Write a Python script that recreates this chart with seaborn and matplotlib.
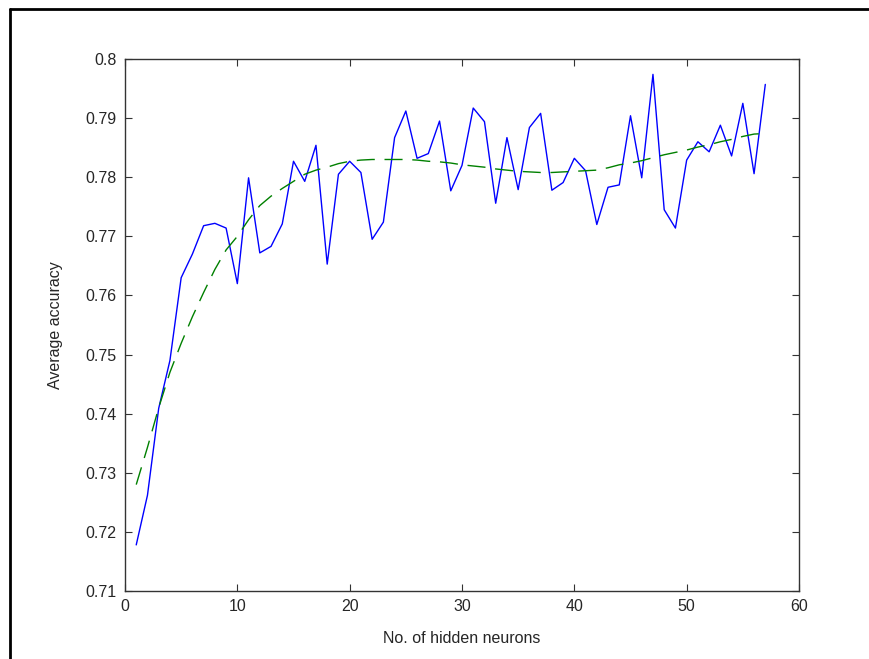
import numpy as np
import pandas as pd
import matplotlib
matplotlib.use("Agg")
import matplotlib.pyplot as plt
from matplotlib.lines import Line2D
import seaborn as sns

# hidden neuron counts and measured accuracy (blue curve)
neurons = list(range(1, 58))
accuracy = [0.7178, 0.7262, 0.7409, 0.7490, 0.7630, 0.7670, 0.7718, 0.7722, 0.7714, 0.7620,
            0.7799, 0.7672, 0.7683, 0.7721, 0.7827, 0.7793, 0.7854, 0.7653, 0.7805, 0.7827,
            0.7808, 0.7695, 0.7724, 0.7867, 0.7912, 0.7832, 0.7840, 0.7895, 0.7777, 0.7820,
            0.7917, 0.7894, 0.7756, 0.7867, 0.7779, 0.7884, 0.7908, 0.7778, 0.7791, 0.7832,
            0.7811, 0.7720, 0.7783, 0.7787, 0.7904, 0.7799, 0.7974, 0.7745, 0.7714, 0.7829,
            0.7860, 0.7843, 0.7888, 0.7836, 0.7925, 0.7806, 0.7957]

# fitted trend (green dashed curve)
trend = [0.7280, 0.7343, 0.7410, 0.7470, 0.7519, 0.7564, 0.7605, 0.7644, 0.7677, 0.7700,
         0.7728, 0.7752, 0.7768, 0.7781, 0.7793, 0.7805, 0.7812, 0.7817, 0.7823, 0.7827,
         0.7829, 0.7830, 0.7830, 0.7830, 0.7830, 0.7829, 0.7827, 0.7826, 0.7824, 0.7821,
         0.7819, 0.7817, 0.7814, 0.7812, 0.7810, 0.7809, 0.7808, 0.7808, 0.7809, 0.7810,
         0.7811, 0.7812, 0.7816, 0.7821, 0.7824, 0.7828, 0.7833, 0.7838, 0.7842, 0.7846,
         0.7851, 0.7855, 0.7860, 0.7864, 0.7869, 0.7873, 0.7874]

x_ticks = [0, 10, 20, 30, 40, 50, 60]
y_ticks = [0.71, 0.72, 0.73, 0.74, 0.75, 0.76, 0.77, 0.78, 0.79, 0.8]

df = pd.DataFrame({"neurons": neurons, "accuracy": accuracy, "trend": trend})

sns.set_theme(style="ticks")
plt.rcParams["font.family"] = ["Liberation Sans", "DejaVu Sans"]

W, H = 869, 659
fig = plt.figure(figsize=(W / 100, H / 100), dpi=100)
ax = fig.add_axes([125 / W, 1 - 591 / H, (799 - 125) / W, (591 - 59) / H])

sns.lineplot(data=df, x="neurons", y="accuracy", ax=ax, color="#0000ff", linewidth=1.0)
sns.lineplot(data=df, x="neurons", y="trend", ax=ax, color="#008000", linewidth=1.0,
             linestyle=(0, (13, 7)))

ax.set_xlim(0, 60)
ax.set_ylim(0.71, 0.8)
ax.set_xticks(x_ticks)
ax.set_yticks(y_ticks)
ax.set_xticklabels([str(t) for t in x_ticks])
ax.set_yticklabels([f"{t:g}" for t in y_ticks])
ax.tick_params(direction="in", length=5, width=0.8, color="#333333", labelsize=11.5,
               top=True, right=True, pad=6)
for s in ax.spines.values():
    s.set_visible(True)
    s.set_color("#333333")
    s.set_linewidth(1.0)

ax.set_xlabel("No. of hidden neurons", fontsize=11.5, labelpad=12)
ax.set_ylabel("Average accuracy", fontsize=11.5, labelpad=16)

# outer frame (left and top edges visible)
fig.add_artist(Line2D([10 / W, 10 / W], [0, 1 - 9 / H], transform=fig.transFigure,
                      color="black", linewidth=2))
fig.add_artist(Line2D([10 / W, 1], [1 - 9 / H, 1 - 9 / H], transform=fig.transFigure,
                      color="black", linewidth=2))

fig.savefig("out.png", dpi=100, facecolor="white")
